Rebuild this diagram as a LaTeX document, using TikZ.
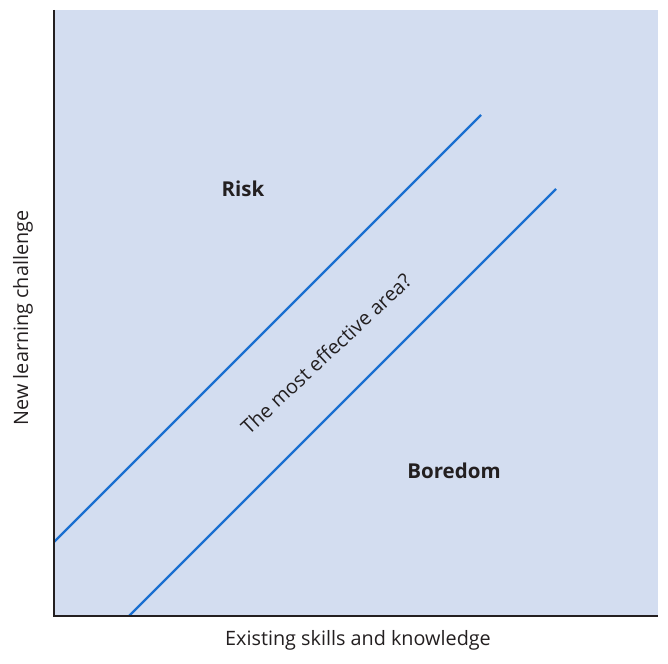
\documentclass[tikz,border=0pt]{standalone}
\usepackage{fontspec}
\setmainfont{Open Sans}
\definecolor{areafill}{HTML}{D3DDF0}
\definecolor{lineblue}{HTML}{1A6FD0}
\definecolor{axisblack}{HTML}{231F20}
\begin{document}
\begin{tikzpicture}[x=1pt,y=-1pt,
  axisline/.style={draw=axisblack,line width=2.4pt},
  bandline/.style={draw=lineblue,line width=2.4pt},
  lbl/.style={font=\fontsize{19.8}{23}\selectfont,text=axisblack,inner sep=0pt},
  zonelbl/.style={font=\fontsize{20.5}{24}\selectfont\bfseries,text=axisblack,inner sep=0pt}]
\useasboundingbox (0,0) rectangle (668,663);
\fill[areafill] (54,10) rectangle (658,616);
\coordinate (a1) at (54,542);
\coordinate (a2) at (481,115);
\coordinate (b1) at (129,616);
\coordinate (b2) at (556,189);
\draw[bandline] (a1) -- (a2);
\draw[bandline] (b1) -- (b2);
\coordinate (top) at (54,10);
\coordinate (origin) at (54,616);
\coordinate (right) at (658,616);
\draw[axisline] (top) -- (origin) -- (right);
\node[zonelbl] (risk) at (243,189) {Risk};
\node[zonelbl] (boredom) at (454,471) {Boredom};
\node[lbl,rotate=43] (mid) at (326,354) {The most effective area?};
\node[lbl] (xlab) at (358,640) {Existing skills and knowledge};
\node[lbl,rotate=90] (ylab) at (23,318) {New learning challenge};
\end{tikzpicture}
\end{document}
